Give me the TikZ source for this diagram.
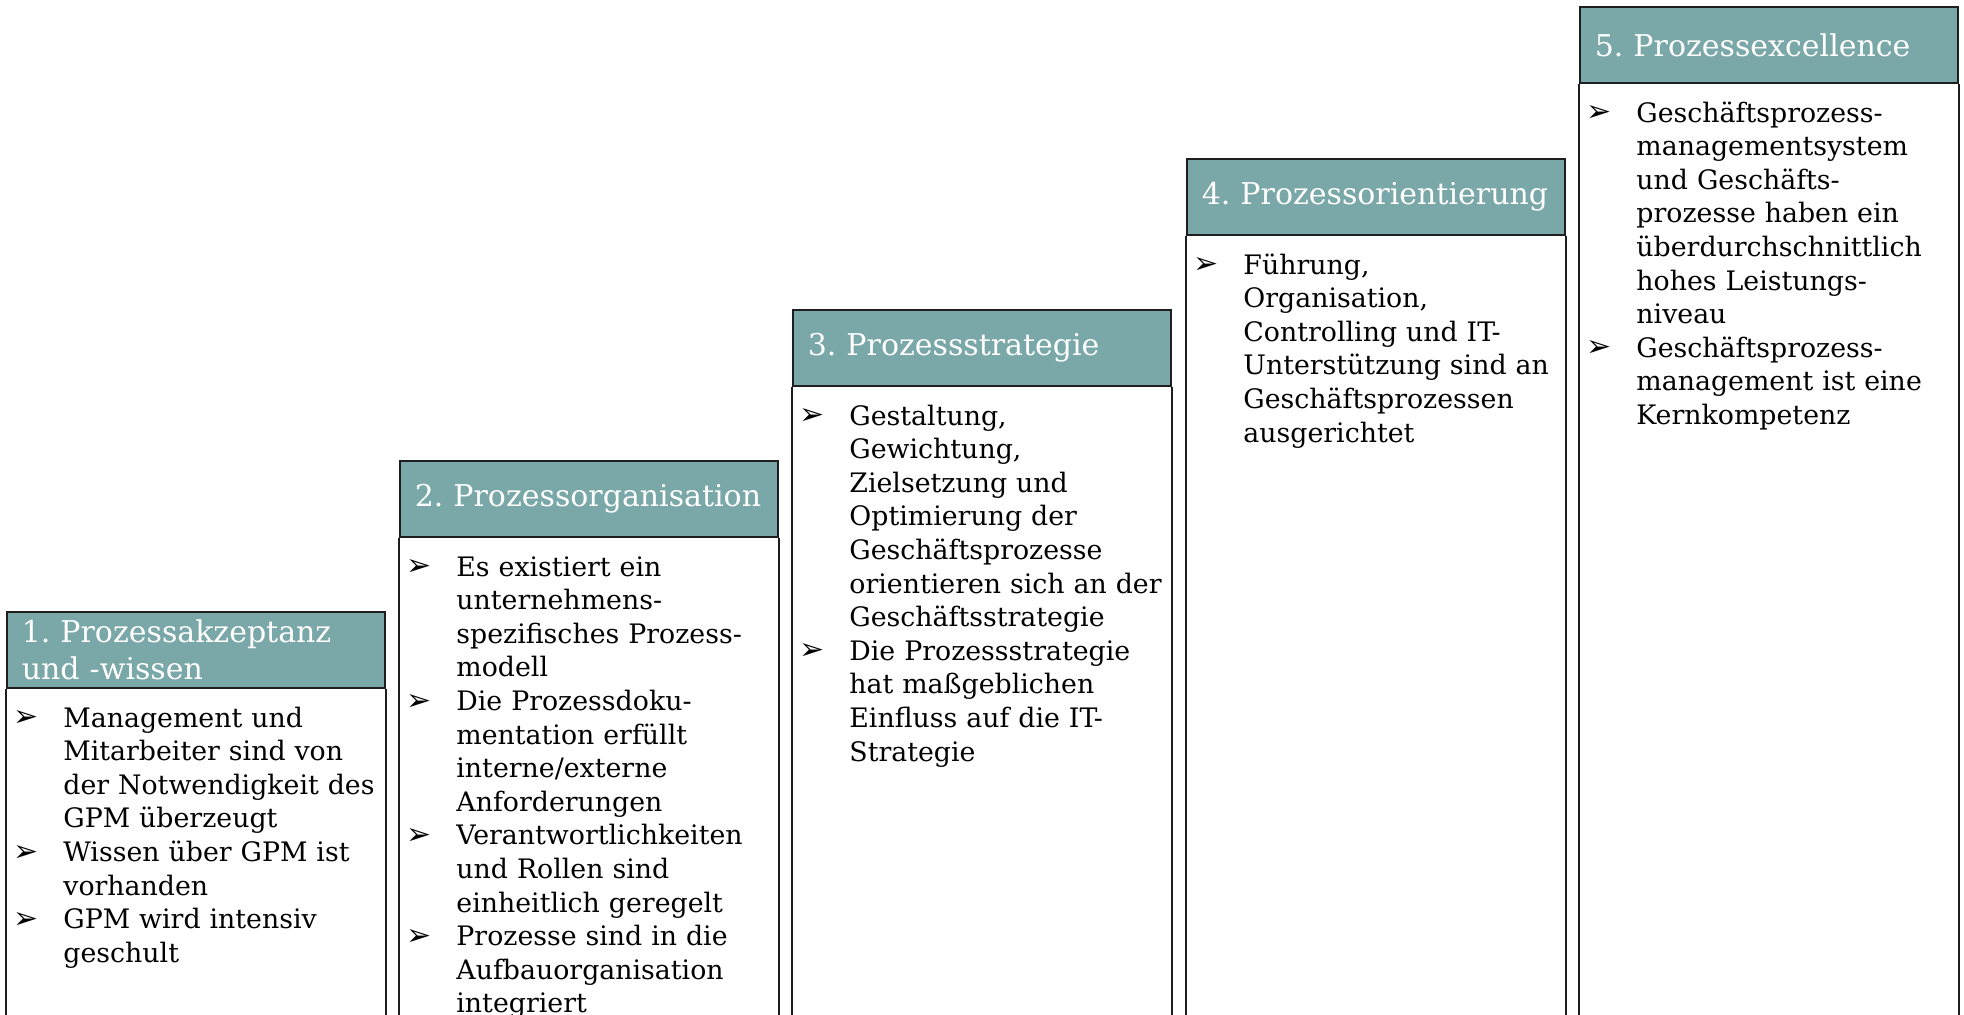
\documentclass[tikz,border=0pt]{standalone}
\usepackage{fontspec}
\setmainfont{DejaVu Serif}
\newfontfamily\bulfont{DejaVu Sans}
\definecolor{hdrteal}{RGB}{122,167,168}
\definecolor{frameclr}{RGB}{30,30,30}
\newcommand\bul{\leavevmode\llap{\makebox[25pt][l]{\raisebox{0.2pt}{\bulfont\fontsize{15}{15}\selectfont ➢}}}}
\newcommand\hdrfont{\fontsize{15}{18.5}\selectfont\hyphenpenalty=10000\relax}
\newcommand\bodyfont{\fontsize{13.4}{16.8}\selectfont\hyphenpenalty=10000\relax}
\frenchspacing
\begin{document}
\frenchspacing
\begin{tikzpicture}[x=0.5pt,y=-0.5pt,
  hdr/.style={draw=frameclr, line width=0.85pt, fill=hdrteal, text=white, anchor=north west,
    minimum width=189pt, minimum height=38pt, inner xsep=7.5pt, inner ysep=0pt,
    text width=174pt, align=left, font=\hdrfont},
  bodytext/.style={anchor=base west, inner sep=0pt, text width=175pt, align=left,
    font=\bodyfont, text=black},
  frame/.style={draw=frameclr, line width=0.85pt}]
\useasboundingbox (0,0) rectangle (1964,1014);
\coordinate (bot) at (0,1020);

% Box 1
\node[hdr] (h1) at (6,611) {1. Prozessakzeptanz\\und -wissen};
\draw[frame] (h1.south west) -- (h1.south west |- bot);
\draw[frame] (h1.south east) -- (h1.south east |- bot);
\node[bodytext] (t1) at (63,727) {\bul Management und\\Mitarbeiter sind von\\der Notwendigkeit des\\GPM überzeugt\\
\bul Wissen über GPM ist\\vorhanden\\
\bul GPM wird intensiv\\geschult};

% Box 2
\node[hdr] (h2) at (399,460) {2. Prozessorganisation};
\draw[frame] (h2.south west) -- (h2.south west |- bot);
\draw[frame] (h2.south east) -- (h2.south east |- bot);
\node[bodytext] (t2) at (456,576) {\bul Es existiert ein\\unternehmens-\\spezifisches Prozess-\\modell\\
\bul Die Prozessdoku-\\mentation erfüllt\\interne/externe\\Anforderungen\\
\bul Verantwortlichkeiten\\und Rollen sind\\einheitlich geregelt\\
\bul Prozesse sind in die\\Aufbauorganisation\\integriert};

% Box 3
\node[hdr] (h3) at (792,309) {3. Prozessstrategie};
\draw[frame] (h3.south west) -- (h3.south west |- bot);
\draw[frame] (h3.south east) -- (h3.south east |- bot);
\node[bodytext] (t3) at (849,425) {\bul Gestaltung,\\Gewichtung,\\Zielsetzung und\\Optimierung der\\Geschäftsprozesse\\orientieren sich an der\\Geschäftsstrategie\\
\bul Die Prozessstrategie\\hat maßgeblichen\\Einfluss auf die IT-\\Strategie};

% Box 4
\node[hdr] (h4) at (1186,158) {4. Prozessorientierung};
\draw[frame] (h4.south west) -- (h4.south west |- bot);
\draw[frame] (h4.south east) -- (h4.south east |- bot);
\node[bodytext] (t4) at (1243,274) {\bul Führung,\\Organisation,\\Controlling und IT-\\Unterstützung sind an\\Geschäftsprozessen\\ausgerichtet};

% Box 5
\node[hdr] (h5) at (1579,6) {5. Prozessexcellence};
\draw[frame] (h5.south west) -- (h5.south west |- bot);
\draw[frame] (h5.south east) -- (h5.south east |- bot);
\node[bodytext] (t5) at (1636,122) {\bul Geschäftsprozess-\\managementsystem\\und Geschäfts-\\prozesse haben ein\\überdurchschnittlich\\hohes Leistungs-\\niveau\\
\bul Geschäftsprozess-\\management ist eine\\Kernkompetenz};
\end{tikzpicture}
\end{document}
